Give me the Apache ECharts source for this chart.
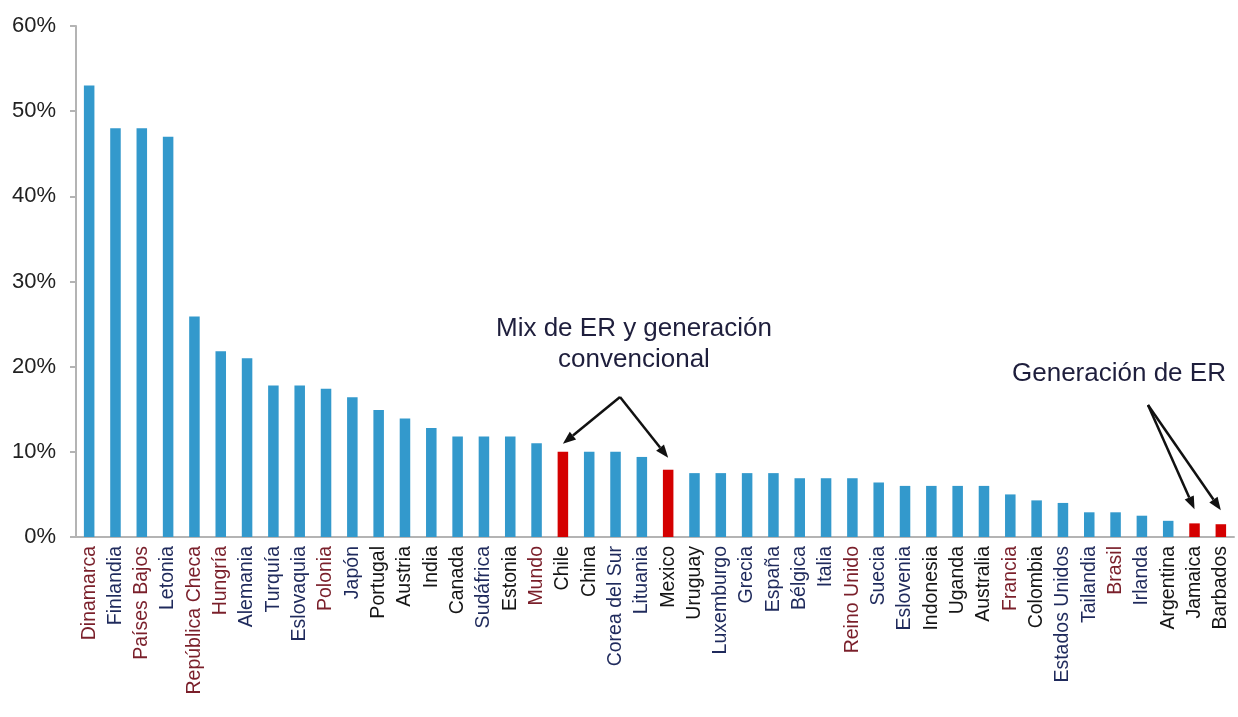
<!DOCTYPE html>
<html>
<head>
<meta charset="utf-8">
<script src="https://cdn.jsdelivr.net/npm/echarts@6/dist/echarts.min.js"></script>
<style>
  html, body { margin: 0; padding: 0; background: #fff; }
  #chart { width: 1238px; height: 717px; }
</style>
</head>
<body>
<div id="chart"></div>
<script>
const countries = [
  'Dinamarca', 'Finlandia', 'Países Bajos', 'Letonia', 'República Checa', 'Hungría',
  'Alemania', 'Turquía', 'Eslovaquia', 'Polonia', 'Japón', 'Portugal', 'Austria',
  'India', 'Canada', 'Sudáfrica', 'Estonia', 'Mundo', 'Chile', 'China',
  'Corea del Sur', 'Lituania', 'Mexico', 'Uruguay', 'Luxemburgo', 'Grecia', 'España',
  'Bélgica', 'Italia', 'Reino Unido', 'Suecia', 'Eslovenia', 'Indonesia', 'Uganda',
  'Australia', 'Francia', 'Colombia', 'Estados Unidos', 'Tailandia', 'Brasil',
  'Irlanda', 'Argentina', 'Jamaica', 'Barbados'
];
// share of renewables (%)
const shares = [
  53, 48, 48, 47, 25.9, 21.8,
  21, 17.8, 17.8, 17.4, 16.4, 14.9, 13.9,
  12.8, 11.8, 11.8, 11.8, 11, 10, 10,
  10, 9.4, 7.9, 7.5, 7.5, 7.5, 7.5,
  6.9, 6.9, 6.9, 6.4, 6, 6, 6,
  6, 5, 4.3, 4, 2.9, 2.9,
  2.5, 1.9, 1.6, 1.5
];
const highlighted = ['Chile', 'Mexico', 'Jamaica', 'Barbados'];
const yTicks = [0, 10, 20, 30, 40, 50, 60];

const annotMix = 'Mix de ER y generación\nconvencional';
const annotEr = 'Generación de ER';
const mixTargets = ['Chile', 'Mexico'];
const erTargets = ['Jamaica', 'Barbados'];

// label colour look (cleartype-ish print)
const redLabels = ['Dinamarca', 'Países Bajos', 'República Checa', 'Hungría', 'Polonia',
  'Mundo', 'Reino Unido', 'Francia', 'Brasil'];
const blackLabels = ['Portugal', 'Austria', 'India', 'Canada', 'Estonia', 'Chile', 'China',
  'Mexico', 'Uruguay', 'Indonesia', 'Uganda', 'Australia', 'Colombia', 'Argentina',
  'Jamaica', 'Barbados'];

function labelKey(name) {
  if (redLabels.includes(name)) return 'r';
  if (blackLabels.includes(name)) return 'k';
  return 'n';
}

const chart = echarts.init(document.getElementById('chart'));
const font = 'Liberation Sans, Arial, sans-serif';
const xFs = 19.5;

chart.setOption({
  animation: false,
  grid: { left: 76, right: 4, top: 26, bottom: 180 },
  xAxis: {
    type: 'category',
    data: countries,
    axisLine: { lineStyle: { color: '#b4b4b4', width: 2 } },
    axisTick: { alignWithLabel: false, length: 5, lineStyle: { color: '#8c8c8c' } },
    axisLabel: {
      rotate: 90,
      interval: 0,
      margin: 9,
      fontFamily: font,
      fontSize: xFs,
      formatter: v => '{' + labelKey(v) + '|' + v + '}',
      rich: {
        r: { color: '#7a1f2a', fontSize: xFs, fontFamily: font },
        n: { color: '#1f2a5c', fontSize: xFs, fontFamily: font },
        k: { color: '#151515', fontSize: xFs, fontFamily: font }
      }
    }
  },
  yAxis: {
    type: 'value',
    min: yTicks[0],
    max: yTicks[yTicks.length - 1],
    interval: 10,
    splitLine: { show: false },
    axisLine: { show: true, lineStyle: { color: '#b4b4b4', width: 2 } },
    axisTick: { show: true, length: 6, lineStyle: { color: '#b4b4b4', width: 2 } },
    axisLabel: {
      formatter: '{value}%',
      color: '#222',
      fontFamily: font,
      fontSize: 22,
      margin: 20
    }
  },
  series: [{
    type: 'bar',
    barWidth: '40%',
    data: countries.map((c, i) => ({
      value: shares[i],
      itemStyle: { color: highlighted.includes(c) ? '#d40000' : '#3399cc' }
    }))
  }]
});

// annotations with arrows pointing at the bars
function tip(name, dy) {
  const i = countries.indexOf(name);
  const p = chart.convertToPixel({ seriesIndex: 0 }, [i, shares[i]]);
  return [p[0], p[1] - dy];
}
function arrow(from, to) {
  const ang = Math.atan2(to[1] - from[1], to[0] - from[0]);
  const L = 13, W = 5;
  const bx = to[0] - L * Math.cos(ang), by = to[1] - L * Math.sin(ang);
  const nx = -Math.sin(ang) * W, ny = Math.cos(ang) * W;
  return [
    { type: 'line', shape: { x1: from[0], y1: from[1], x2: bx, y2: by },
      style: { stroke: '#111', lineWidth: 2.5 } },
    { type: 'polygon', shape: { points: [to, [bx + nx, by + ny], [bx - nx, by - ny]] },
      style: { fill: '#111' } }
  ];
}

const mixFrom = [620, 397];
const erFrom = [1148, 405];
const elements = [];
mixTargets.forEach((n, k) => elements.push(...arrow(mixFrom, tip(n, k === 0 ? 8 : 12))));
erTargets.forEach(n => elements.push(...arrow(erFrom, tip(n, 14))));
elements.push({
  type: 'text', x: 634, y: 313,
  style: { text: annotMix, fontFamily: font, fontSize: 26, fill: '#1e1e3c',
    lineHeight: 31, align: 'center', verticalAlign: 'top' }
});
elements.push({
  type: 'text', x: 1012, y: 361,
  style: { text: annotEr, fontFamily: font, fontSize: 26, fill: '#1e1e3c', verticalAlign: 'top' }
});
chart.setOption({ graphic: elements });
</script>
</body>
</html>
